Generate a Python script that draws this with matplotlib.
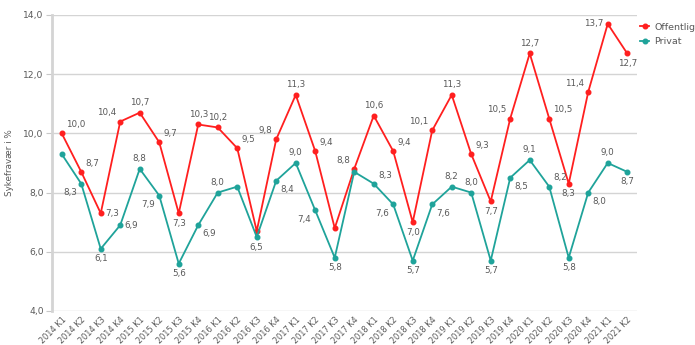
import matplotlib
matplotlib.use("Agg")
import matplotlib.pyplot as plt

# Sykefravær per kvartal, offentlig vs privat sektor
quarters = ["2014 K1", "2014 K2", "2014 K3", "2014 K4",
            "2015 K1", "2015 K2", "2015 K3", "2015 K4",
            "2016 K1", "2016 K2", "2016 K3", "2016 K4",
            "2017 K1", "2017 K2", "2017 K3", "2017 K4",
            "2018 K1", "2018 K2", "2018 K3", "2018 K4",
            "2019 K1", "2019 K2", "2019 K3", "2019 K4",
            "2020 K1", "2020 K2", "2020 K3", "2020 K4",
            "2021 K1", "2021 K2"]
offentlig = [10.0, 8.7, 7.3, 10.4, 10.7, 9.7, 7.3, 10.3, 10.2, 9.5,
             6.7, 9.8, 11.3, 9.4, 6.8, 8.8, 10.6, 9.4, 7.0, 10.1,
             11.3, 9.3, 7.7, 10.5, 12.7, 10.5, 8.3, 11.4, 13.7, 12.7]
privat = [9.3, 8.3, 6.1, 6.9, 8.8, 7.9, 5.6, 6.9, 8.0, 8.2,
          6.5, 8.4, 9.0, 7.4, 5.8, 8.7, 8.3, 7.6, 5.7, 7.6,
          8.2, 8.0, 5.7, 8.5, 9.1, 8.2, 5.8, 8.0, 9.0, 8.7]

# where each value label goes ('' = no label)
pos_off = ["ar", "ar", "r", "al", "a", "ar", "b", "a", "a", "ar",
           "", "al", "a", "ar", "", "al", "a", "ar", "b", "al",
           "a", "ar", "b", "al", "a", "ar", "b", "al", "l", "b"]
pos_priv = ["", "bl", "b", "r", "a", "bl", "b", "br", "a", "",
            "b", "br", "a", "bl", "b", "", "ar", "bl", "b", "br",
            "a", "a", "b", "br", "a", "ar", "b", "br", "a", "b"]

RED = "#ff1f1f"
TEAL = "#1fa39a"
GREY = "#595959"

offsets = {
    "a": (0, 4, "center", "bottom"),
    "b": (0, -4, "center", "top"),
    "ar": (3, 3, "left", "bottom"),
    "al": (-3, 3, "right", "bottom"),
    "br": (3, -3, "left", "top"),
    "bl": (-3, -3, "right", "top"),
    "r": (3, 0, "left", "center"),
    "l": (-3, 0, "right", "center"),
}

fig = plt.figure(figsize=(6.95, 3.45), dpi=100)
ax = fig.add_axes([0.0748, 0.0986, 0.8417, 0.858])

x = range(len(quarters))
ax.plot(x, offentlig, color=RED, lw=1.3, marker="o", ms=3.3, label="Offentlig", zorder=3)
ax.plot(x, privat, color=TEAL, lw=1.3, marker="o", ms=3.3, label="Privat", zorder=3)

for vals, poss in [(offentlig, pos_off), (privat, pos_priv)]:
    for i, (v, p) in enumerate(zip(vals, poss)):
        if not p:
            continue
        dx, dy, ha, va = offsets[p]
        ax.annotate(f"{v:.1f}".replace(".", ","), (i, v), xytext=(dx, dy),
                    textcoords="offset points", ha=ha, va=va,
                    fontsize=6.3, color=GREY, zorder=4)

ax.set_xlim(-0.5, len(quarters) - 0.5)
ax.set_ylim(4, 14)
ax.set_yticks([4, 6, 8, 10, 12, 14])
ax.set_yticklabels([f"{t:.1f}".replace(".", ",") for t in [4, 6, 8, 10, 12, 14]])
ax.set_xticks(list(x))
ax.set_xticklabels(quarters, rotation=45, ha="right", rotation_mode="anchor")
ax.tick_params(axis="x", length=0, labelsize=5.9, colors=GREY, pad=3)
ax.tick_params(axis="y", length=4, labelsize=6.6, colors=GREY, pad=2, color="#c8c8c8")

ax.grid(axis="y", color="#d4d4d4", lw=1)
ax.set_axisbelow(True)
for s in ["top", "right", "bottom"]:
    ax.spines[s].set_visible(False)
ax.spines["left"].set_color("#d4d4d4")
ax.spines["left"].set_linewidth(2)

ax.set_ylabel("Sykefravær i %", fontsize=6.3, color=GREY, labelpad=7)

leg = fig.legend(loc="upper left", bbox_to_anchor=(0.918, 0.94), frameon=False,
                 fontsize=6.8, handlelength=1.0, handletextpad=0.5, labelspacing=0.6,
                 borderpad=0.2, borderaxespad=0)
for t in leg.get_texts():
    t.set_color(GREY)

fig.savefig("out.png", dpi=100)
